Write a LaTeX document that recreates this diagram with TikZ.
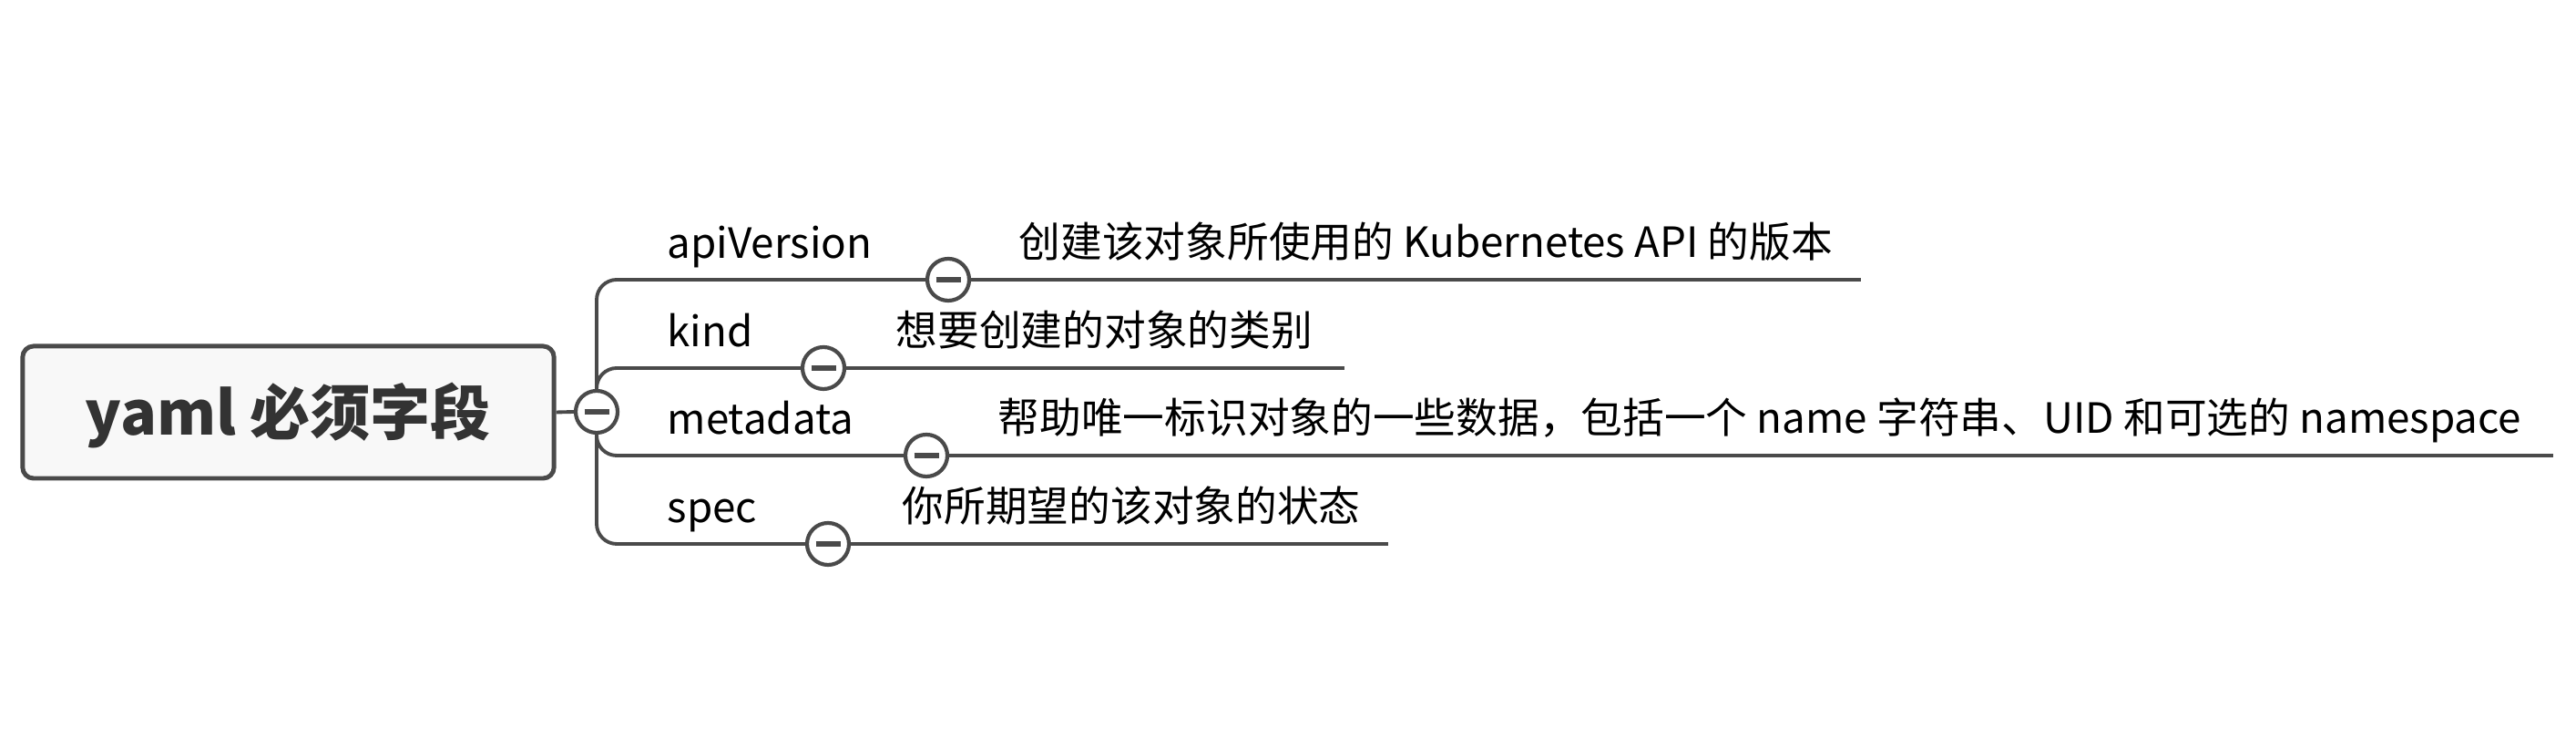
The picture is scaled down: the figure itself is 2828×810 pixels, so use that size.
\documentclass[tikz,border=0pt]{standalone}
\usepackage{fontspec}
\setmainfont{Noto Sans CJK SC}
\usepackage{xcolor}
\usepackage{tikz}
\usetikzlibrary{positioning}

\definecolor{linegray}{HTML}{4A4A4A}
\definecolor{rootfill}{HTML}{F8F8F8}
\definecolor{roottext}{HTML}{333333}

\tikzset{
  rootbox/.style={draw=linegray, line width=1.4pt, fill=rootfill, rounded corners=0.12cm,
    minimum width=5.83cm, minimum height=1.45cm, text height=0.6cm, text depth=0.11cm,
    font=\fontsize{18.8}{22}\selectfont\bfseries, text=roottext},
  keytext/.style={anchor=base west, inner sep=0pt, font=\fontsize{13}{15}\selectfont, text=black},
  fold/.style={circle, draw=linegray, line width=1.2pt, fill=white, minimum size=0.46cm, inner sep=0pt,
    path picture={\draw[linegray, line width=1.7pt]
      ([xshift=-0.135cm]path picture bounding box.center) -- ([xshift=0.135cm]path picture bounding box.center);}},
  branch/.style={draw=linegray, line width=1.1pt, rounded corners=0.22cm},
}

\begin{document}
\begin{tikzpicture}[x=0.01cm, y=0.01cm]
\useasboundingbox (0,0) rectangle (2828,810);

\node[rootbox] (root) at (316.5,357.5) {yaml 必须字段};
\node[fold] (rc) at (655,358) {};
\draw[branch] (root.east) -- (rc.west);


\node[keytext] (k1) at (732,526) {apiVersion};
\node[keytext] (k2) at (732,429) {kind};
\node[keytext] (k3) at (732,333) {metadata};
\node[keytext] (k4) at (732,236) {spec};

\node[fold] (f1) at (1041,503) {};
\node[fold] (f2) at (904,406) {};
\node[fold] (f3) at (1017,310) {};
\node[fold] (f4) at (909,213) {};

\draw[branch] (rc.north) |- (f1.west);
\draw[branch] (rc.north) |- (f2.west);
\draw[branch] (rc.south) |- (f3.west);
\draw[branch] (rc.south) |- (f4.west);


\node[keytext] (d1) at (1118,527) {创建该对象所使用的 Kubernetes API 的版本};
\node[keytext] (d2) at (983,430) {想要创建的对象的类别};
\node[keytext] (d3) at (1095,334) {帮助唯一标识对象的一些数据，包括一个 name 字符串、UID 和可选的 namespace};
\node[keytext] (d4) at (990,237) {你所期望的该对象的状态};

\draw[branch] (f1.east) -- ([xshift=0.3cm]f1.center -| d1.east);
\draw[branch] (f2.east) -- ([xshift=0.34cm]f2.center -| d2.east);
\draw[branch] (f3.east) -- ([xshift=0.34cm]f3.center -| d3.east);
\draw[branch] (f4.east) -- ([xshift=0.3cm]f4.center -| d4.east);

\end{tikzpicture}
\end{document}
